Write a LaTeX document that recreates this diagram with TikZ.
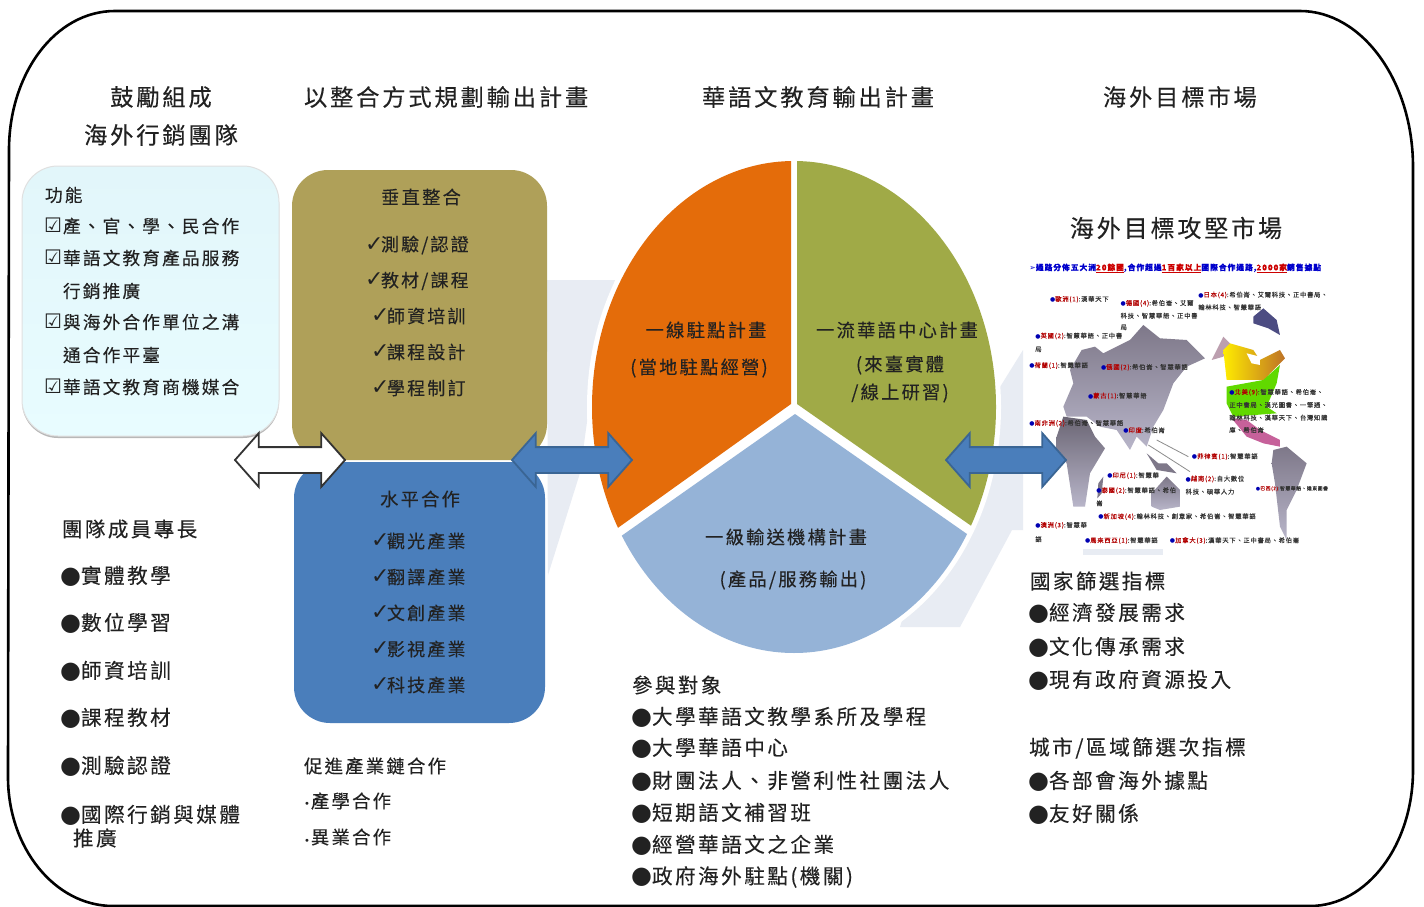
\documentclass[tikz,border=0pt]{standalone}
\usepackage{fontspec}
\usetikzlibrary{shapes.arrows}
\setmainfont{Noto Sans CJK TC}[LetterSpace=12,FakeBold=0.2]
\newfontfamily\djv{DejaVu Sans}
\definecolor{ink}{HTML}{222222}
\definecolor{pale}{HTML}{E8ECF3}
\definecolor{oliveBox}{HTML}{AFA059}
\definecolor{blueBox}{HTML}{4A7EBB}
\definecolor{pieOrange}{HTML}{E46C0A}
\definecolor{pieOlive}{HTML}{A0AA47}
\definecolor{pieBlue}{HTML}{95B3D7}
\definecolor{arrowEdge}{HTML}{3A6594}
\definecolor{landDark}{HTML}{7E7889}
\definecolor{landLight}{HTML}{B8B5C9}
\newcommand{\fsz}[1]{\fontsize{#1}{#1}\selectfont}
\tikzset{
  x=1pt,y=-1pt,
  txt/.style={inner sep=0pt,outer sep=0pt,anchor=west,text=ink},
  ctr/.style={inner sep=0pt,outer sep=0pt,anchor=center,text=ink},
  bigbox/.style={rectangle,rounded corners=36pt,inner sep=0pt},
  dbl/.style={shape=double arrow,inner sep=0pt,text height=24pt,text depth=0pt,text width=1pt,double arrow head extend=14pt,double arrow tip angle=97,minimum width=52pt},
  bluearrow/.style={dbl,fill=blueBox,draw=arrowEdge,line width=1.8pt},
  land/.style={draw=none},
  mlabel/.style={inner sep=0pt,outer sep=0pt,anchor=west,text=black!80,font=\fsz{6.3}},
}
% name, x, y, size, text
\newcommand{\T}[5]{\node[txt,font=\fsz{#4}] (#1) at (#2,#3) {#5};}
\newcommand{\C}[5]{\node[ctr,font=\fsz{#4}] (#1) at (#2,#3) {#5};}
\newcommand{\CK}[4]{\node[txt,font=\fsz{17.7}] (#1) at (#2,#3) {\makebox[19pt][l]{\djv\fsz{20}☑}#4};}
\newcommand{\TK}[4]{\node[txt,font=\fsz{18}] (#1) at (#2,#3) {\makebox[16pt][l]{\djv\fsz{22}✓}#4};}
\newcommand{\BL}[4]{\node[txt,font=\fsz{20.6}] (#1) at (#2,#3) {\makebox[21pt][l]{\djv\fsz{24}●}#4};}
\newcommand{\DT}[5]{\node[txt,font=\fsz{#4}] (#1) at (#2,#3) {{\djv\fsz{10}•}\hspace{1pt}#5};}
\newcommand{\M}[5]{\node[mlabel] (#1) at (#2,#3) {{\color{blue!70!black}\djv\fsz{6}●}{\color{red!70!black}#4}#5};}
\begin{document}
\begin{tikzpicture}
\useasboundingbox (0,0) rectangle (1424,907);
\fill[white] (0,0) rectangle (1424,907);
% outer frame
\draw[black,line width=2.6pt] (115,11) -- (1300,11) .. controls (1362,11) and (1413,81) .. (1413,167)
  -- (1413,770) .. controls (1413,845) and (1367,906) .. (1310,906)
  -- (113,906) .. controls (55,906) and (8,848) .. (8,777)
  -- (9,150) .. controls (9,74) and (55,11) .. (115,11) -- cycle;
% pale background band
\fill[pale] (547,280) -- (615,280) -- (590,400) -- (580,473) -- (548,575) -- cycle;
\fill[pale] (1023,350) -- (1000,387) -- (960,430) -- (900,627) -- (960,627) -- (1012,530) -- (1023,530) -- cycle;
% pie
\fill[white] (794,407) ellipse[x radius=207,y radius=251];
\begin{scope}
  \clip (791,100) -- (791,404) -- (580,555) -- (500,555) -- (500,100) -- cycle;
  \fill[pieOrange] (794,407) ellipse[x radius=202,y radius=246];
\end{scope}
\begin{scope}
  \clip (797,100) -- (797,404) -- (1010,553) -- (1100,553) -- (1100,100) -- cycle;
  \fill[pieOlive] (794,407) ellipse[x radius=202,y radius=246];
\end{scope}
\begin{scope}
  \clip (795,414) -- (1010,564) -- (1010,700) -- (580,700) -- (580,565) -- cycle;
  \fill[pieBlue] (794,407) ellipse[x radius=202,y radius=246];
\end{scope}
% boxes
\fill[black!28,rounded corners=36pt] (22,168) rectangle (279,438);
\definecolor{boxTop}{HTML}{E2F6FA}
\definecolor{boxBot}{HTML}{E8FCFF}
\node[bigbox,minimum width=257pt,minimum height=270pt,top color=boxTop,bottom color=boxBot,draw=black!12,line width=1pt] (funcbox) at (150.5,301) {};
\node[bigbox,fill=oliveBox,minimum width=255pt,minimum height=290pt] (vertbox) at (419.5,315) {};
\node[bigbox,fill=blueBox,minimum width=251pt,minimum height=261pt] (horizbox) at (419.5,592.5) {};
% map
\begin{scope}[shift={(1020,250)},x=0.3333pt,y=-0.3333pt]
  \shade[land,top color=landDark,bottom color=landLight]
    (130,470) -- (160,400) -- (150,360) -- (185,300) -- (225,290) -- (250,310) -- (330,270) -- (370,225) -- (420,265) -- (500,270) -- (555,325) -- (500,350) -- (460,400) -- (430,480) -- (400,530) -- (380,590) -- (350,560) -- (330,600) -- (290,540) -- (240,530) -- (200,500) -- (140,500) -- cycle;
  \shade[land,top color=landDark!85!black,bottom color=landLight]
    (110,560) -- (130,500) -- (200,510) -- (225,560) -- (255,595) -- (210,670) -- (195,770) -- (160,770) -- (140,640) -- (110,600) -- cycle;
  \fill[landDark] (235,700) -- (250,680) -- (245,730) -- (232,745) -- cycle;
  \fill[landDark] (380,610) -- (415,640) -- (440,640) -- (470,670) -- (410,660) -- cycle;
  \shade[land,top color=landDark,bottom color=landLight]
    (395,730) -- (440,680) -- (480,720) -- (480,770) -- (420,780) -- (395,770) -- cycle;
  \fill[blue!30!black!70!white] (700,200) -- (730,175) -- (770,210) -- (780,255) -- (745,235) -- (700,220) -- cycle;
  \fill[magenta!35!black!45!white] (575,330) -- (610,260) -- (630,280) -- (610,320) -- cycle;
  \shade[land,left color=yellow!85!orange,right color=orange!70!black!85] (610,300) -- (630,280) -- (700,300) -- (720,330) -- (780,300) -- (795,325) -- (750,370) -- (735,390) -- (620,390) -- cycle;
  \fill[white] (680,310) -- (720,320) -- (720,345) -- (695,340) -- cycle;
  \fill[green!55!yellow!85!black] (620,410) -- (730,390) -- (780,345) -- (770,400) -- (740,470) -- (770,490) -- (640,500) -- (620,460) -- cycle;
  \fill[magenta!70!black!75] (635,505) -- (680,510) -- (720,540) -- (780,570) -- (780,590) -- (730,580) -- (680,560) -- cycle;
  \shade[land,top color=landDark,bottom color=landLight]
    (760,600) -- (800,590) -- (860,640) -- (830,720) -- (800,780) -- (800,870) -- (780,830) -- (765,700) -- (755,640) -- cycle;
  \fill[pale] (190,898) rectangle (430,915);
  \coordinate (pa) at (410,570); \coordinate (pb) at (505,620);
  \coordinate (pc) at (385,585); \coordinate (pd) at (510,665);
  \draw[black!45,line width=0.8pt] (pa) -- (pb);
  \draw[black!45,line width=0.8pt] (pc) -- (pd);
  \node[mlabel,font=\fsz{7.8}\bfseries,text=blue!80!black] (maptitle) at (28,55) {{\djv\mdseries ➢}通路分佈五大洲{\color{red!80!black}\underline{20餘國}},合作超過{\color{red!80!black}\underline{1百家以上}}國際合作通路,{\color{red!80!black}\underline{2000家}}銷售據點};
  \M{m1}{90}{148}{歐洲(1)}{:漢華天下}
  \M{m2}{302}{160}{德國(4)}{:希伯崙、艾爾}
  \node[mlabel] (m2b) at (302,197) {科技、智慧華語、正中書};
  \node[mlabel] (m2c) at (302,232) {局};
  \M{m3}{535}{135}{日本(4)}{:希伯崙、艾爾科技、正中書局、}
  \node[mlabel] (m3b) at (535,172) {翰林科技、智慧華語};
  \M{m4}{46}{258}{英國(2)}{:智慧華語、正中書}
  \node[mlabel] (m4b) at (46,298) {局};
  \M{m5}{28}{347}{荷蘭(1)}{:智慧華語}
  \M{m6}{243}{352}{俄國(2)}{:希伯崙、智慧華語}
  \M{m7}{204}{438}{蒙古(1)}{:智慧華語}
  \M{m8}{28}{520}{南非洲(2)}{:希伯崙、智慧華語}
  \M{m9}{310}{541}{印度}{:希伯崙}
  \M{m10}{628}{427}{北美(9)}{:智慧華語、希伯崙、}
  \node[mlabel] (m10b) at (628,465) {正中書局、漢光圖書、一筆通、};
  \node[mlabel] (m10c) at (628,503) {翰林科技、漢華天下、台灣知識};
  \node[mlabel] (m10d) at (628,540) {庫、希伯崙};
  \M{m11}{516}{620}{菲律賓(1)}{:智慧華語}
  \M{m12}{497}{687}{越南(2)}{:自大數位}
  \node[mlabel] (m12b) at (497,725) {科技、碩華人力};
  \M{m13}{262}{677}{印尼(1)}{:智慧華}
  \M{m14}{229}{722}{泰國(2)}{:智慧華語、希伯}
  \node[mlabel] (m14b) at (229,760) {崙};
  \node[mlabel,font=\fsz{4.8}] (m15) at (708,716) {{\color{blue!70!black}\djv\fsz{5}●}{\color{red!70!black}巴西(2)}:智慧華語、遠東圖書};
  \M{m16}{235}{800}{新加坡(4)}{:翰林科技、創意家、希伯崙、智慧華語}
  \M{m17}{46}{826}{澳洲(3)}{:智慧華}
  \node[mlabel] (m17b) at (46,868) {語};
  \M{m18}{195}{872}{馬來西亞(1)}{:智慧華語}
  \M{m19}{450}{872}{加拿大(3)}{:漢華天下、正中書局、希伯崙}
\end{scope}
% block arrows
\node[dbl,fill=white,draw=black!80,line width=1.8pt,minimum height=110pt] (arrowwhite) at (290,460) {};
\node[bluearrow,minimum height=120pt] (arrowpie) at (572,460) {};
\node[bluearrow,minimum height=120pt] (arrowmap) at (1006,460) {};
% column titles
\C{t1a}{161}{97}{23.3}{鼓勵組成}
\C{t1b}{161}{135}{23.3}{海外行銷團隊}
\T{t2}{304}{97}{23.3}{以整合方式規劃輸出計畫}
\T{t3}{702}{97}{23.3}{華語文教育輸出計畫}
\T{t4}{1103}{97}{23.3}{海外目標市場}
% function box
\T{f0}{45}{195}{17.7}{功能}
\CK{f1}{44}{226}{產、官、學、民合作}
\CK{f2}{44}{258}{華語文教育產品服務}
\T{f2b}{63}{291}{17.7}{行銷推廣}
\CK{f3}{44}{322}{與海外合作單位之溝}
\T{f3b}{63}{355}{17.7}{通合作平臺}
\CK{f4}{44}{387}{華語文教育商機媒合}
% vertical box
\C{v0}{421}{197}{18.3}{垂直整合}
\TK{v1}{365}{245}{測驗/認證}
\TK{v2}{365}{281}{教材/課程}
\TK{v3}{371}{316}{師資培訓}
\TK{v4}{371}{352}{課程設計}
\TK{v5}{371}{388}{學程制訂}
% horizontal box
\C{h0}{420}{499}{18.3}{水平合作}
\TK{h1}{371}{541}{觀光產業}
\TK{h2}{371}{577}{翻譯產業}
\TK{h3}{371}{613}{文創產業}
\TK{h4}{371}{649}{影視產業}
\TK{h5}{371}{685}{科技產業}
\T{c0}{304}{766}{18.4}{促進產業鏈合作}
\DT{c1}{304}{801}{18.4}{產學合作}
\DT{c2}{304}{837}{18.4}{異業合作}
% team
\T{s0}{62}{529}{20.5}{團隊成員專長}
\BL{s1}{60}{576}{實體教學}
\BL{s2}{60}{623}{數位學習}
\BL{s3}{60}{671}{師資培訓}
\BL{s4}{60}{718}{課程教材}
\BL{s5}{60}{766}{測驗認證}
\BL{s6}{60}{815}{國際行銷與媒體}
\T{s6b}{73}{838}{20.6}{推廣}
% pie labels
\C{p1a}{706}{330}{18.3}{一線駐點計畫}
\C{p1b}{699}{368}{18.3}{(當地駐點經營)}
\C{p2a}{897}{330}{18.3}{一流華語中心計畫}
\C{p2b}{900}{365}{18.3}{(來臺實體}
\C{p2c}{900}{393}{18.3}{/線上研習)}
\C{p3a}{786}{537}{18.3}{一級輸送機構計畫}
\C{p3b}{793}{580}{18.3}{(產品/服務輸出)}
% participants
\T{q0}{632}{685}{20.5}{參與對象}
\BL{q1}{631}{717}{大學華語文教學系所及學程}
\BL{q2}{631}{748}{大學華語中心}
\BL{q3}{631}{781}{財團法人、非營利性社團法人}
\BL{q4}{631}{813}{短期語文補習班}
\BL{q5}{631}{845}{經營華語文之企業}
\BL{q6}{631}{877}{政府海外駐點(機關)}
% right column
\C{r0}{1176}{228}{24}{海外目標攻堅市場}
\T{r1}{1030}{581}{20.5}{國家篩選指標}
\BL{r2}{1028}{613}{經濟發展需求}
\BL{r3}{1028}{647}{文化傳承需求}
\BL{r4}{1028}{680}{現有政府資源投入}
\T{r5}{1029}{748}{20.7}{城市/區域篩選次指標}
\BL{r6}{1028}{781}{各部會海外據點}
\BL{r7}{1028}{814}{友好關係}
\end{tikzpicture}
\end{document}
